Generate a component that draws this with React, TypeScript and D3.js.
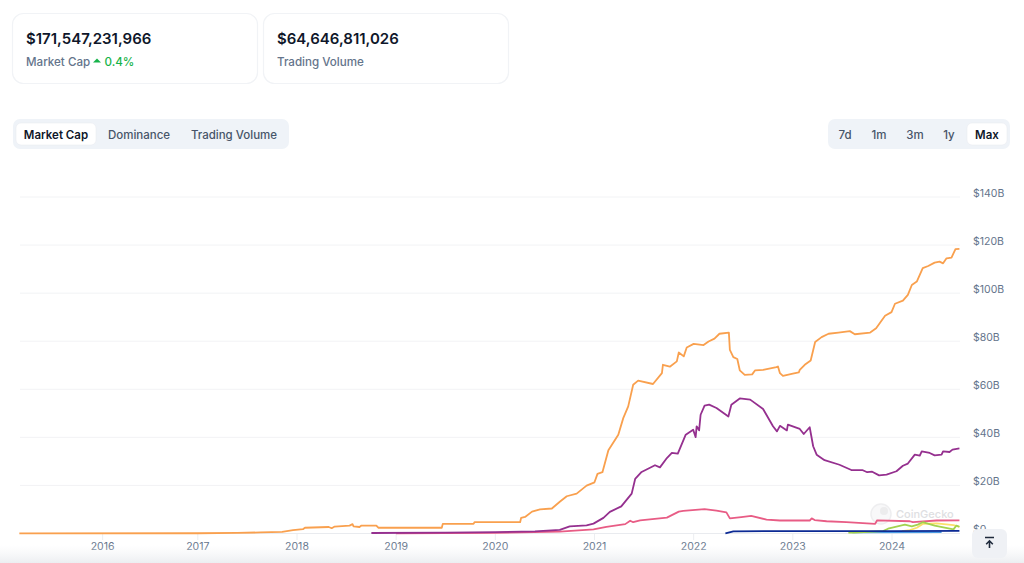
import React from "react";
import * as d3 from "d3";

const W = 1024, H = 563;

const valueTicks = [0, 20, 40, 60, 80, 100, 120, 140];
const yearTicks = [2016, 2017, 2018, 2019, 2020, 2021, 2022, 2023, 2024];
const yearTickPositions = [2016.04, 2017, 2018, 2019, 2020, 2021, 2022, 2023, 2024];

const orangeYears = [2015.2,2017.0,2017.4,2017.63,2017.85,2017.96,2018.06,2018.08,2018.32,2018.35,2018.38,2018.53,2018.56,2018.57,2018.63,2018.65,2018.80,2018.82,2019.46,2019.47,2019.78,2019.79,2020.25,2020.26,2020.30,2020.37,2020.45,2020.57,2020.65,2020.72,2020.82,2020.92,2021.00,2021.03,2021.08,2021.14,2021.24,2021.29,2021.34,2021.39,2021.44,2021.59,2021.68,2021.69,2021.76,2021.83,2021.85,2021.90,2021.93,2022.00,2022.10,2022.15,2022.21,2022.26,2022.355,2022.365,2022.40,2022.44,2022.465,2022.515,2022.59,2022.62,2022.70,2022.835,2022.85,2022.87,2022.90,2023.00,2023.06,2023.07,2023.12,2023.18,2023.225,2023.29,2023.36,2023.46,2023.575,2023.625,2023.78,2023.84,2023.93,2023.995,2024.03,2024.11,2024.16,2024.20,2024.25,2024.31,2024.365,2024.43,2024.48,2024.515,2024.55,2024.60,2024.64,2024.68];
const orangeValues = [0.05,0.1,0.25,0.45,0.7,1.4,1.8,2.4,2.7,2.2,2.9,3.3,3.9,3.0,2.7,3.3,3.3,2.4,2.4,4.0,4.0,4.7,4.7,6.5,6.9,9.1,10,10.4,13.2,15.5,16.6,19.9,21.3,24.8,25.5,34.6,41.1,48.0,52.9,61.9,63.6,62.2,66.7,70.2,69.4,71.6,75.3,73.7,77.4,78.9,78.4,79.9,81.1,83.1,83.6,76.4,73.4,72.6,67.9,66.0,66.2,67.9,68.1,69.2,69.5,66.7,65.6,66.5,67.0,68.1,70.2,72.0,79.7,81.7,83.1,83.6,84.2,82.9,83.6,85.4,90.6,92.1,95.6,96.9,99.3,103.4,104.8,110.4,111.3,112.7,113.1,112.4,114.5,114.8,118.3,118.4];

const purpleYears = [2018.75,2019.5,2020.0,2020.4,2020.65,2020.75,2020.92,2020.99,2021.09,2021.155,2021.27,2021.375,2021.41,2021.475,2021.61,2021.66,2021.73,2021.78,2021.84,2021.92,2021.995,2022.02,2022.03,2022.055,2022.07,2022.11,2022.156,2022.23,2022.35,2022.38,2022.465,2022.57,2022.70,2022.80,2022.84,2022.87,2022.94,2022.95,2023.07,2023.11,2023.17,2023.205,2023.24,2023.32,2023.47,2023.59,2023.70,2023.75,2023.80,2023.87,2023.945,2024.045,2024.11,2024.16,2024.23,2024.28,2024.30,2024.38,2024.43,2024.50,2024.515,2024.58,2024.61,2024.68];
const purpleValues = [0.2,0.4,0.6,0.9,1.5,3.0,3.4,4.1,6.5,9.0,11.3,16.6,22.7,25.6,28.4,27.5,31.4,33.5,33.2,41.1,43.2,40.1,44.6,42.9,49.4,53.2,53.6,52.2,48.7,53.6,56.2,55.7,51.8,44.6,42.5,44.8,42.9,45.3,43.5,41.4,44.2,36.3,32.8,30.5,28.6,26.4,26.4,25.5,25.7,24.2,24.5,25.9,28.2,29.1,32.8,32.4,34.2,33.5,32.5,32.8,34.2,33.9,34.9,35.4];

const pinkYears = [2019.0,2020.0,2020.65,2020.99,2021.12,2021.31,2021.36,2021.39,2021.46,2021.73,2021.85,2021.895,2022.11,2022.23,2022.33,2022.365,2022.48,2022.58,2022.735,2022.87,2023.17,2023.19,2023.22,2023.34,2023.54,2023.83,2023.85,2024.18,2024.21,2024.45,2024.68];
const pinkValues = [0.1,0.3,0.8,1.7,2.8,3.9,5.3,4.7,5.5,6.6,9.1,9.4,10.1,9.5,8.8,6.3,6.8,7.3,5.8,5.4,5.4,6.3,5.6,5.1,4.7,4.0,5.5,5.1,4.7,5.4,5.5];

const lightBlueYears = [2023.6, 2024.5];
const lightBlueValues = [0.5, 0.6];

const yellowYears = [2024.1,2024.18,2024.25,2024.31,2024.45,2024.62,2024.68];
const yellowValues = [1.0,1.4,2.4,4.0,4.2,3.5,2.8];

const greenYears = [2023.56,2023.62,2023.91,2023.96,2024.13,2024.2,2024.26,2024.31,2024.43,2024.62,2024.65,2024.68];
const greenValues = [0.4,0.4,1.0,2.0,3.7,3.0,3.7,4.7,3.3,1.7,3.3,2.8];

const navyYears = [2022.32,2022.4,2022.8,2023.5,2024.0,2024.68];
const navyValues = [0.1,0.9,1.0,1.0,1.0,1.1];

const seriesList = [
  { name: "pink", years: pinkYears, values: pinkValues, color: "#e85c85" },
  { name: "lightBlue", years: lightBlueYears, values: lightBlueValues, color: "#4a9be3" },
  { name: "yellow", years: yellowYears, values: yellowValues, color: "#fbe06a" },
  { name: "green", years: greenYears, values: greenValues, color: "#a3d24f" },
  { name: "navy", years: navyYears, values: navyValues, color: "#0c2a94" },
  { name: "purple", years: purpleYears, values: purpleValues, color: "#95308f" },
  { name: "orange", years: orangeYears, values: orangeValues, color: "#f9a04e" },
];

const tabLabels = ["Market Cap", "Dominance", "Trading Volume"];
const tabCenters = [56, 139, 234];
const rangeLabels = ["7d", "1m", "3m", "1y", "Max"];
const rangeCenters = [845, 879, 915, 949, 987];

const x = d3.scaleLinear().domain([2018, 2024]).range([297, 892]);
const y = d3.scaleLinear().domain([0, 140]).range([533.5, 197]);

const FONT = "Inter, 'Noto Sans', sans-serif";
const SLATE = "#64748b";
const DARK = "#475569";
const INK = "#0f172a";

function Card({ x0, w, value, label, extra }: any) {
  return (
    <g>
      <rect x={x0 + 0.5} y={13.5} width={w} height={70} rx={11} fill="#fff" stroke="#f1f3f6" strokeWidth={1.2} />
      <text x={x0 + 14} y={44} fontSize={15} fontWeight={600} fill={INK}>{value}</text>
      <text x={x0 + 14} y={65.5} fontSize={11.6} fontWeight={500} fill={SLATE}>{label}</text>
      {extra}
    </g>
  );
}

export default function App() {
  return (
    <svg width={W} height={H} viewBox={`0 0 ${W} ${H}`}
      style={{ position: "fixed", left: 0, top: 0, display: "block", fontFamily: FONT }}>
      <defs>
        <linearGradient id="fade" x1="0" y1="0" x2="0" y2="1">
          <stop offset="0" stopColor="#f3f4f6" stopOpacity={0} />
          <stop offset="1" stopColor="#eceef1" stopOpacity={1} />
        </linearGradient>
      </defs>
      <rect width={W} height={H} fill="#fff" />

      <Card x0={12} w={245} value="$171,547,231,966" label="Market Cap"
        extra={<g>
          <path d="M93 62.5 L97 58.5 L101 62.5 Z" fill="#16b34a" />
          <text x={104.5} y={65.5} fontSize={11.6} fontWeight={500} fill="#16b34a">0.4%</text>
        </g>} />
      <Card x0={263} w={245} value="$64,646,811,026" label="Trading Volume" />

      <rect x={13} y={119} width={276} height={30} rx={7} fill="#eff3f8" />
      <rect x={16} y={123} width={80} height={22} rx={5} fill="#fff" stroke="#e6e9ee" strokeWidth={0.5} />
      {tabLabels.map((t, i) => (
        <text key={t} x={tabCenters[i]} y={138.5} textAnchor="middle" fontSize={11.5} fontWeight={i === 0 ? 600 : 500}
          fill={i === 0 ? INK : DARK}>{t}</text>
      ))}

      <rect x={828} y={119} width={182} height={30} rx={7} fill="#eff3f8" />
      <rect x={967} y={123} width={40} height={22} rx={5} fill="#fff" stroke="#e6e9ee" strokeWidth={0.5} />
      {rangeLabels.map((t, i) => (
        <text key={t} x={rangeCenters[i]} y={138.5} textAnchor="middle" fontSize={11.5} fontWeight={i === 4 ? 600 : 500}
          fill={i === 4 ? INK : DARK}>{t}</text>
      ))}

      {valueTicks.map((v) => (
        <g key={v}>
          <line x1={20} x2={960} y1={y(v)} y2={y(v)} stroke={v === 0 ? "#e9ebef" : "#f2f3f5"} strokeWidth={1} />
          <text x={973} y={y(v) - 0.5} fontSize={10.5} fill={SLATE}>{`$${v === 0 ? 0 : v + "B"}`}</text>
        </g>
      ))}

      {yearTicks.map((yr, i) => (
        <g key={yr}>
          <line x1={x(yearTickPositions[i])} x2={x(yearTickPositions[i])} y1={534} y2={540} stroke="#eceef1" />
          <text x={x(yearTickPositions[i])} y={549.5} textAnchor="middle" fontSize={10.5} fill={SLATE}>{yr}</text>
        </g>
      ))}

      <g opacity={0.85}>
        <circle cx={881} cy={514} r={10} fill="#f7f7f8" stroke="#ececee" strokeWidth={1.5} />
        <circle cx={884} cy={511} r={4} fill="#e9e9eb" />
        <text x={896} y={518} fontSize={11} fontWeight={500} fill="#d9dadd">CoinGecko</text>
      </g>

      {seriesList.map((s) => {
        const gen = d3.line<number>()
          .x((_, i) => x(s.years[i]))
          .y((d) => y(d));
        return <path key={s.name} d={gen(s.values) ?? ""} fill="none" stroke={s.color} strokeWidth={1.8} strokeLinejoin="round" />;
      })}

      <rect x={0} y={545} width={W} height={18} fill="url(#fade)" />

      <rect x={972} y={529} width={35} height={29} rx={6} fill="#eff1f5" />
      <path d="M985 537.5 H994 M989.5 548 V541 M986.2 544.2 L989.5 540.8 L992.8 544.2" fill="none" stroke="#1e293b" strokeWidth={1.6} />
    </svg>
  );
}
